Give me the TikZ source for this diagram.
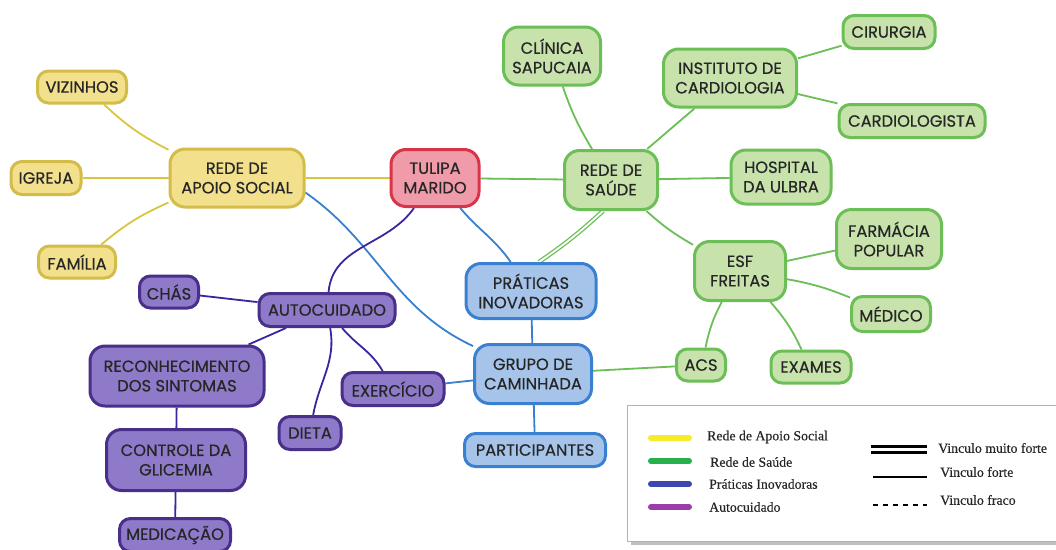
\documentclass[tikz,border=0pt]{standalone}
\usepackage{fontspec}
\setmainfont{Poppins}
\newfontfamily\boxfont{Poppins}[FakeBold=0.5]
\newfontfamily\legfont{Liberation Serif}[FakeBold=0.3]
\usetikzlibrary{backgrounds}
\definecolor{yfill}{RGB}{242,224,140}
\definecolor{ydraw}{RGB}{212,188,72}
\definecolor{rfill}{RGB}{240,155,170}
\definecolor{rdraw}{RGB}{218,52,72}
\definecolor{gfill}{RGB}{200,226,172}
\definecolor{gdraw}{RGB}{108,190,86}
\definecolor{bfill}{RGB}{166,196,234}
\definecolor{bdraw}{RGB}{58,128,208}
\definecolor{pfill}{RGB}{142,122,200}
\definecolor{pdraw}{RGB}{72,48,138}
\definecolor{ytxt}{RGB}{38,38,38}
\definecolor{lgyellow}{RGB}{246,236,40}
\definecolor{lggreen}{RGB}{40,176,76}
\definecolor{lgblue}{RGB}{60,72,176}
\definecolor{lgpurple}{RGB}{156,60,170}
\tikzset{
  box/.style={rounded corners=15pt, line width=3pt, align=center, inner sep=1pt,
    text=ytxt, font=\boxfont\fontsize{16.3}{19.5}\selectfont},
  ybox/.style={box, fill=yfill, draw=ydraw},
  rbox/.style={box, fill=rfill, draw=rdraw},
  gbox/.style={box, fill=gfill, draw=gdraw},
  bbox/.style={box, fill=bfill, draw=bdraw},
  pbox/.style={box, fill=pfill, draw=pdraw},
  sm/.style={rounded corners=11pt},
  ylink/.style={draw=ydraw!85!yellow, line width=1.8pt},
  glink/.style={draw=gdraw, line width=1.8pt},
  blink/.style={draw=bdraw, line width=1.8pt},
  plink/.style={draw=pdraw!80!blue, line width=1.8pt},
  legline/.style={line width=6pt, line cap=round},
  legtext/.style={font=\legfont\fontsize{13.8}{16}\selectfont, anchor=west, inner sep=0pt, text=black!85}
}
\begin{document}
\begin{tikzpicture}[x=1pt,y=1pt]
\useasboundingbox (0,0) rectangle (1056,-549);

% social support network
\node[ybox, sm, minimum width=89pt, minimum height=32pt] (viz) at (82,-87) {VIZINHOS};
\node[ybox, sm, minimum width=70pt, minimum height=33pt] (igr) at (46,-178) {IGREJA};
\node[ybox, sm, minimum width=77pt, minimum height=32pt] (fam) at (77,-262) {FAMÍLIA};
\node[ybox, minimum width=134pt, minimum height=58pt] (apoio) at (237,-178) {REDE DE\\APOIO SOCIAL};

% centre
\node[rbox, minimum width=88pt, minimum height=57pt] (tul) at (435,-178) {TULIPA\\MARIDO};

% health network
\node[gbox, minimum width=93pt, minimum height=59pt] (sau) at (611,-180) {REDE DE\\SAÚDE};
\node[gbox, minimum width=97pt, minimum height=58pt] (cli) at (552,-56) {CLÍNICA\\SAPUCAIA};
\node[gbox, minimum width=133pt, minimum height=58pt] (ins) at (730,-78) {INSTITUTO DE\\CARDIOLOGIA};
\node[gbox, sm, minimum width=92pt, minimum height=33pt] (cir) at (889,-32) {CIRURGIA};
\node[gbox, sm, minimum width=146pt, minimum height=33pt] (card) at (912,-121) {CARDIOLOGISTA};
\node[gbox, minimum width=100pt, minimum height=54pt] (hos) at (781,-177) {HOSPITAL\\DA ULBRA};
\node[gbox, minimum width=91pt, minimum height=59pt] (esf) at (740,-271) {ESF\\FREITAS};
\node[gbox, minimum width=105pt, minimum height=59pt] (far) at (889,-239) {FARMÁCIA\\POPULAR};
\node[gbox, sm, minimum width=79pt, minimum height=35pt] (med) at (891,-314) {MÉDICO};
\node[gbox, sm, minimum width=49pt, minimum height=32pt] (acs) at (701,-365) {ACS};
\node[gbox, sm, minimum width=80pt, minimum height=32pt] (exa) at (811,-367) {EXAMES};

% innovative practices
\node[bbox, minimum width=130pt, minimum height=55pt] (pra) at (531,-291) {PRÁTICAS\\INOVADORAS};
\node[bbox, minimum width=117pt, minimum height=59pt] (gru) at (533,-374) {GRUPO DE\\CAMINHADA};
\node[bbox, sm, minimum width=141pt, minimum height=33pt] (par) at (535,-450) {PARTICIPANTES};

% self-care
\node[pbox, sm, minimum width=136pt, minimum height=33pt] (aut) at (327,-310) {AUTOCUIDADO};
\node[pbox, sm, minimum width=59pt, minimum height=32pt] (cha) at (169,-292) {CHÁS};
\node[pbox, sm, minimum width=102pt, minimum height=33pt] (exe) at (393,-389) {EXERCÍCIO};
\node[pbox, sm, minimum width=62pt, minimum height=33pt] (die) at (310,-433) {DIETA};
\node[pbox, minimum width=174pt, minimum height=60pt] (rec) at (177,-376) {RECONHECIMENTO\\DOS SINTOMAS};
\node[pbox, minimum width=139pt, minimum height=61pt] (con) at (176,-460) {CONTROLE DA\\GLICEMIA};
\node[pbox, sm, minimum width=111pt, minimum height=33pt] (medc) at (175,-535) {MEDICAÇÃO};

\begin{scope}[on background layer]
  \fill[white] (0,0) rectangle (1056,-549);
  % social support links
  \draw[ylink] (apoio) to[bend left=8] (viz);
  \draw[ylink] (apoio) -- (igr);
  \draw[ylink] (apoio) to[bend right=8] (fam);
  \draw[ylink] (apoio) -- (tul);
  % health links
  \draw[glink] (tul) -- (sau);
  \draw[glink] (sau) to[bend left=6] (cli);
  \draw[glink] (sau) -- (ins);
  \draw[glink] (ins) -- (cir);
  \draw[glink] (ins) -- (card);
  \draw[glink] (sau) -- (hos);
  \draw[glink] (sau) to[bend right=6] (esf);
  \draw[glink] (esf) -- (far);
  \draw[glink] (esf) to[bend left=6] (med);
  \draw[glink] (esf) to[bend right=8] (acs);
  \draw[glink] (esf) to[bend left=8] (exa);
  \draw[glink] (acs) -- (gru);
  \draw[draw=gdraw, line width=1.3pt, double=white, double distance=1.8pt] ([xshift=-8pt]sau.south) to[bend left=4] ([xshift=8pt]pra.north);
  % practices links
  \draw[blink] (tul) to[out=-50, in=125] (pra);
  \draw[blink] (apoio.-12) to[out=-35, in=155] (gru);
  \draw[blink] (pra) -- (gru);
  \draw[blink] (gru) -- (par);
  \draw[blink] (gru) -- (exe);
  % self-care links
  \draw[plink] (tul) to[out=-125, in=85] (aut);
  \draw[plink] (aut) -- (cha);
  \draw[plink] (aut) -- (rec);
  \draw[plink] (aut) to[out=-80, in=80] (die);
  \draw[plink] (aut) to[out=-50, in=120] (exe);
  \draw[plink] (rec) -- (con);
  \draw[plink] (con) -- (medc);
\end{scope}

% legend
\fill[black!25] (631,-409) rectangle (1060,-545);
\node[draw=black!30, fill=white, line width=0.6pt, minimum width=430pt, minimum height=136pt, anchor=north west, inner sep=0pt] (leg) at (627,-405) {};
\draw[legline, lgyellow] (651,-438) -- (689,-438);
\draw[legline, lggreen] (651,-461) -- (689,-461);
\draw[legline, lgblue] (651,-484) -- (689,-484);
\draw[legline, lgpurple] (651,-507) -- (689,-507);
\node[legtext] (l1) at (707,-437) {Rede de Apoio Social};
\node[legtext] (l2) at (710,-462) {Rede de Saúde};
\node[legtext] (l3) at (709,-484) {Práticas Inovadoras};
\node[legtext] (l4) at (709,-507) {Autocuidado};
\draw[line width=2.2pt] (871,-446.5) -- (927,-446.5);
\draw[line width=2.2pt] (871,-452.5) -- (927,-452.5);
\draw[line width=2pt] (873,-477) -- (927,-477);
\draw[line width=2pt, dash pattern=on 5pt off 5pt] (873,-505) -- (927,-505);
\node[legtext] (l5) at (938,-448) {Vinculo muito forte};
\node[legtext] (l6) at (940,-472) {Vinculo forte};
\node[legtext] (l7) at (940,-500) {Vinculo fraco};
\end{tikzpicture}
\end{document}
